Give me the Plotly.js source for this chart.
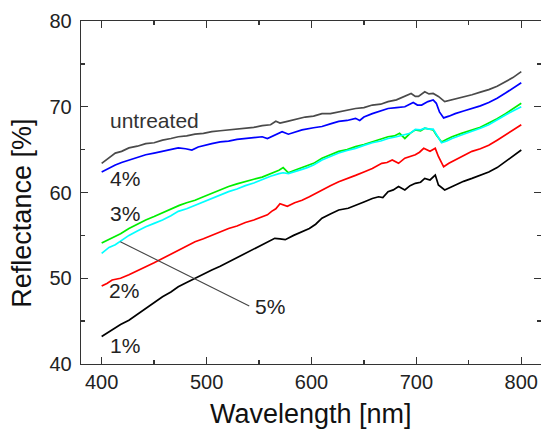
<!DOCTYPE html>
<html>
<head>
<meta charset="utf-8">
<script src="https://cdn.plot.ly/plotly-3.0.1.min.js"></script>
<style>html,body{margin:0;padding:0;background:#fff;}#chart{width:541px;height:432px;}</style>
</head>
<body>
<div id="chart"></div>
<script>
// Wavelength [nm] / Reflectance [%]
const untreatedX = [400,406,413,419,426,434,442,450,458,466,473,481,489,497,505,513,521,529,537,545,553,561,566,570,577,585,594,602,610,618,626,634,642,650,658,666,673,681,689,695,699,702,708,712,716,721,727,737,745,753,761,769,777,785,792,800];
const untreatedY = [63.4,64.0,64.6,64.8,65.2,65.4,65.7,65.8,66.1,66.3,66.5,66.6,66.8,66.9,67.1,67.2,67.3,67.4,67.55,67.6,67.8,67.9,68.3,68.1,68.3,68.5,68.8,68.9,69.2,69.2,69.4,69.6,69.8,69.9,70.2,70.3,70.6,70.8,71.2,71.55,71.2,71.2,71.75,71.5,71.55,71.2,70.6,70.9,71.1,71.4,71.7,72.0,72.4,72.9,73.4,74.1];

const p4X = [400,406,413,419,426,434,442,450,458,466,473,480,486,492,498,505,513,521,529,537,545,553,558,565,572,578,585,591,602,610,618,626,634,642,646,650,658,666,673,681,689,697,701,705,711,716,719,722,726,731,737,745,753,761,769,777,785,792,800];
const p4Y = [62.4,62.8,63.2,63.5,63.8,64.1,64.4,64.6,64.8,65.0,65.2,65.1,64.95,65.3,65.5,65.7,65.9,66.0,66.2,66.3,66.4,66.5,66.3,66.7,67.1,66.8,67.1,67.3,67.55,67.7,68.0,68.3,68.4,68.65,68.4,68.8,69.2,69.5,69.8,69.9,70.0,70.5,70.2,70.2,70.6,70.8,70.4,69.4,68.7,68.9,69.2,69.5,69.8,70.1,70.5,71.0,71.6,72.2,72.8];

const p3X = [400,407,413,418,426,434,442,450,458,466,474,481,489,497,505,513,521,529,537,545,553,561,569,573,578,584,591,596,602,610,618,626,634,642,650,658,666,673,679,684,689,694,699,704,708,712,716,719,724,729,734,743,753,761,769,777,785,792,800];
const p3Y = [54.1,54.5,54.9,55.2,55.8,56.3,56.8,57.2,57.65,58.1,58.5,58.8,59.1,59.5,59.9,60.3,60.7,61.0,61.3,61.55,61.8,62.2,62.6,62.9,62.3,62.6,62.9,63.1,63.4,64.0,64.4,64.8,65.0,65.35,65.6,65.9,66.2,66.5,66.6,66.9,66.3,66.9,67.3,67.2,67.5,67.4,67.3,66.7,65.9,66.2,66.5,66.9,67.3,67.6,68.1,68.6,69.2,69.8,70.4];

const p5X = [400,407,413,418,426,434,442,450,458,466,473,481,489,497,505,513,521,529,537,545,553,561,569,573,578,584,591,596,602,610,618,626,634,642,650,658,666,673,681,689,694,699,704,708,712,716,719,724,729,734,743,753,761,769,777,785,792,800];
const p5Y = [52.9,53.6,53.9,54.3,55.0,55.5,56.0,56.4,56.8,57.3,57.8,58.1,58.5,58.9,59.3,59.7,60.1,60.4,60.8,61.1,61.5,61.9,62.2,62.3,62.2,62.4,62.7,62.9,63.2,63.8,64.2,64.6,64.9,65.15,65.5,65.8,66.0,66.3,66.5,66.7,66.9,67.35,67.3,67.5,67.4,67.4,66.8,65.8,66.0,66.3,66.7,67.1,67.5,67.9,68.5,69.05,69.5,70.0];

const p2X = [400,405,410,418,426,434,442,450,458,466,473,481,489,497,505,513,521,529,537,545,553,558,562,566,570,577,584,591,598,604,610,618,626,634,642,650,658,667,672,677,683,689,694,699,703,707,713,718,721,726,731,737,745,753,761,769,777,785,792,800];
const p2Y = [49.1,49.4,49.8,50.0,50.4,50.9,51.35,51.8,52.3,52.8,53.3,53.8,54.26,54.6,55.0,55.4,55.8,56.1,56.5,56.8,57.2,57.4,57.8,58.1,58.7,58.4,58.8,59.1,59.5,59.9,60.3,60.8,61.26,61.6,62.0,62.4,62.8,63.4,63.5,63.8,63.4,64.0,64.2,64.4,64.7,65.15,64.8,65.15,64.2,63.0,63.4,63.8,64.3,64.8,65.1,65.5,66.1,66.7,67.3,67.9];

const p1X = [400,405,410,418,426,434,442,450,458,466,473,481,489,497,505,513,521,529,537,545,553,559,565,570,575,583,591,598,604,610,618,626,635,642,650,658,664,668,673,678,683,689,694,699,704,708,713,718,721,727,732,737,745,753,761,769,777,785,792,800];
const p1Y = [43.2,43.6,44.05,44.6,45.1,45.8,46.5,47.2,47.85,48.4,49.0,49.5,50.0,50.5,50.96,51.4,51.9,52.4,52.9,53.4,53.9,54.2,54.66,54.6,54.5,55.0,55.45,55.8,56.3,57.0,57.5,57.96,58.16,58.54,58.9,59.3,59.5,59.4,60.1,60.3,60.7,60.3,60.8,61.07,61.2,61.65,61.46,62.04,60.87,60.3,60.6,60.87,61.3,61.65,62.0,62.4,62.9,63.6,64.2,64.96];

const seriesNames = ["untreated","4%","3%","5%","2%","1%"];
const seriesColors = ["#4a4a4a","#0000ff","#00ee00","#00ffff","#ff0000","#000000"];
const xTickVals = [400,500,600,700,800];
const yTickVals = [40,50,60,70,80];

const xs = [untreatedX,p4X,p3X,p5X,p2X,p1X];
const ys = [untreatedY,p4Y,p3Y,p5Y,p2Y,p1Y];
const traces = xs.map((x,i)=>({
  x: x, y: ys[i], type:"scatter", mode:"lines", name: seriesNames[i],
  line:{color: seriesColors[i], width:1.7}
}));

const font = "Liberation Sans, Arial, sans-serif";
const axisCommon = {
  showgrid:false, zeroline:false, showline:true, linecolor:"#333", linewidth:1.3,
  mirror:"allticks", ticks:"inside", ticklen:7, tickwidth:1.3, tickcolor:"#333",
  tickfont:{family:font, size:20, color:"#222"}
};
const layout = {
  width:541, height:432,
  margin:{l:81, r:0, t:21, b:68},
  paper_bgcolor:"#fff", plot_bgcolor:"#fff",
  showlegend:false,
  font:{family:font},
  xaxis: Object.assign({}, axisCommon, {
    range:[380.3, 818.8], tickvals:xTickVals,
    minor:{dtick:50, tick0:400, ticks:"inside", ticklen:4, tickcolor:"#333", tickwidth:1.3}
  }),
  yaxis: Object.assign({}, axisCommon, {
    range:[40,80], tickvals:yTickVals, ticklabelstandoff:4,
    minor:{dtick:5, tick0:40, ticks:"inside", ticklen:4, tickcolor:"#333", tickwidth:1.3}
  }),
  annotations:[
    {text:"Wavelength [nm]", xref:"paper", yref:"paper", x:0.5, y:-0.147, xanchor:"center", yanchor:"middle", showarrow:false, font:{family:font, size:27, color:"#111"}},
    {text:"Reflectance [%]", xref:"paper", yref:"paper", x:-0.127, y:0.44, xanchor:"center", yanchor:"middle", textangle:-90, showarrow:false, font:{family:font, size:27, color:"#111"}},
    {text:"untreated", xref:"x", yref:"y", x:450, y:68.4, showarrow:false, font:{family:font, size:21, color:"#333"}},
    {text:"4%", xref:"x", yref:"y", x:422.6, y:61.6, showarrow:false, font:{family:font, size:21, color:"#222"}},
    {text:"3%", xref:"x", yref:"y", x:422.6, y:57.55, showarrow:false, font:{family:font, size:21, color:"#222"}},
    {text:"2%", xref:"x", yref:"y", x:421.6, y:48.55, showarrow:false, font:{family:font, size:21, color:"#222"}},
    {text:"1%", xref:"x", yref:"y", x:422.6, y:42.1, showarrow:false, font:{family:font, size:21, color:"#222"}},
    {text:"5%", xref:"x", yref:"y", x:560.4, y:46.76, showarrow:false, font:{family:font, size:21, color:"#222"}}
  ],
  shapes:[
    {type:"line", xref:"x", yref:"y", x0:417.8, y0:54.26, x1:540.7, y1:46.76, line:{color:"#444", width:1.1}}
  ]
};
Plotly.newPlot("chart", traces, layout, {staticPlot:true, displayModeBar:false});
</script>
</body>
</html>
